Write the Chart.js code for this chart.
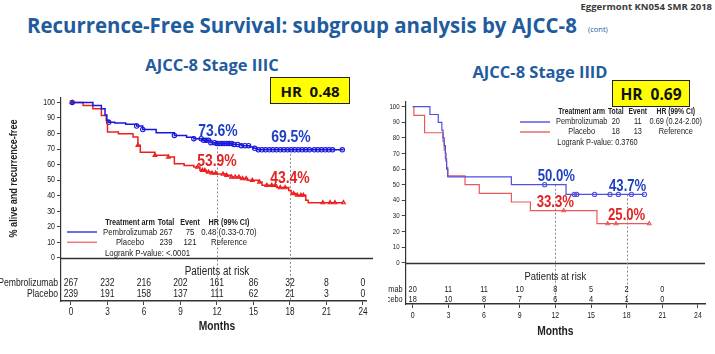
<!DOCTYPE html>
<html><head><meta charset="utf-8">
<script src="https://cdn.jsdelivr.net/npm/chart.js@4.4.1/dist/chart.umd.min.js"></script>
<style>
body{margin:0;background:#fff;}
#page{position:relative;width:715px;height:354px;overflow:hidden;background:#fff;font-family:"Open Sans",sans-serif;}
canvas{position:absolute;}
.t{position:absolute;white-space:nowrap;line-height:1;}
.c{transform:translate(-50%,-50%);}
.hr{position:absolute;background:#ffff00;border:1.5px solid #222;box-sizing:border-box;display:flex;align-items:center;justify-content:center;font-weight:700;color:#111;}
</style></head>
<body><div id="page">
<canvas id="left" width="380" height="250" style="left:0;top:90px"></canvas>
<canvas id="right" width="327" height="250" style="left:388px;top:90px"></canvas>
<div class="t" style="right:3px;top:2px;font-size:9.5px;font-weight:700;color:#3a3a3a;">Eggermont KN054 SMR 2018</div>
<div class="t" style="left:27px;top:13px;font-size:22px;font-weight:700;color:#1f5c9e;transform:scaleX(0.928);transform-origin:left center;">Recurrence-Free Survival: subgroup analysis by AJCC-8</div>
<div class="t" style="left:588px;top:26px;font-size:7.5px;color:#1f5c9e;">(cont)</div>
<div class="t c" style="left:212px;top:65px;font-size:16.5px;font-weight:700;color:#1f5c9e;">AJCC-8 Stage IIIC</div>
<div class="t c" style="left:540px;top:72px;font-size:16.5px;font-weight:700;color:#1f5c9e;">AJCC-8 Stage IIID</div>
<div class="hr" style="left:270px;top:77px;width:80px;height:27px;font-size:15px;">HR&nbsp;&nbsp;0.48</div>
<div class="hr" style="left:612px;top:80px;width:78px;height:27px;font-size:15.5px;">HR&nbsp;&nbsp;0.69</div>
</div>
<script>
// no narrow face installed, so text is squeezed horizontally to look like Arial Narrow
const FONT = '"Liberation Sans", Arial, sans-serif';
const SQ = 0.82;
const months = [0, 3, 6, 9, 12, 15, 18, 21, 24];
const yTicks = [0, 10, 20, 30, 40, 50, 60, 70, 80, 90, 100];
const landmarks = [12, 18];

// ---- AJCC-8 Stage IIIC ----
const iiicPembroT = [0, 1.8, 2.5, 2.8, 2.95, 3.1, 3.6, 4.5, 5.4, 5.9, 7.0, 8.5, 9.5, 10.1, 10.8, 11.5, 11.9, 13.3, 14.0, 14.7, 15.0, 15.3, 22.4];
const iiicPembroS = [100, 98, 96, 92, 88.5, 87.2, 86.8, 86, 84.8, 82.6, 80.5, 78.8, 77.6, 76.7, 75.6, 74.1, 73.6, 73.0, 72.2, 71.3, 70.5, 69.5, 69.5];
const iiicPlaceboT = [0, 1.0, 1.8, 2.5, 2.9, 3.0, 3.9, 5.1, 5.5, 5.7, 6.9, 8.0, 8.5, 9.3, 10.1, 10.6, 11.1, 11.6, 12.0, 12.7, 13.1, 13.9, 14.5, 15.4, 15.7, 16.9, 17.9, 18.1, 18.5, 19.3, 19.5, 22.4];
const iiicPlaceboS = [100, 98, 96, 91.6, 88.4, 81, 79.9, 77.7, 72.4, 68, 66, 64.9, 60.6, 59.5, 58.4, 56.3, 55.2, 54.5, 53.9, 53.1, 52, 51, 49.9, 48.8, 46.7, 45.2, 43.4, 41.4, 40.3, 37, 35.5, 35.5];
const iiicPembroCens = [0.1, 3.1, 5.4, 5.9, 8.5, 10.1, 10.7, 10.9, 11.1, 11.3, 11.5, 11.8, 12.0, 12.2, 12.4, 12.6, 12.8, 13.0, 13.2, 13.4, 13.7, 14.0, 14.3, 14.6, 15.1, 15.4, 15.7, 16.0, 16.3, 16.6, 16.9, 17.2, 17.5, 17.8, 18.1, 18.4, 18.7, 19.0, 19.3, 19.6, 20.0, 20.3, 20.6, 20.9, 21.2, 21.5, 22.3];
const iiicPlaceboCens = [0.1, 5.5, 6.9, 8.0, 10.4, 10.8, 11.0, 11.3, 11.6, 11.9, 12.5, 12.8, 13.2, 13.5, 13.8, 14.1, 14.4, 14.9, 15.5, 16.1, 16.5, 16.8, 17.2, 17.6, 18.3, 18.6, 18.9, 19.1, 20.7, 21.3, 21.7, 22.4];
const iiicPembroPct = [73.6, 69.5];
const iiicPlaceboPct = [53.9, 43.4];
const iiicRiskPembro = [267, 232, 216, 202, 161, 86, 32, 8, 0];
const iiicRiskPlacebo = [239, 191, 158, 137, 111, 62, 21, 3, 0];
const iiicLegendRows = [['Pembrolizumab', '267', '75', '0.48 (0.33-0.70)'], ['Placebo', '239', '121', 'Reference']];
const iiicLogrank = 'Logrank P-value: <.0001';

// ---- AJCC-8 Stage IIID ----
const iiidPembroT = [0, 1.45, 2.15, 2.45, 2.55, 2.65, 2.75, 2.8, 2.85, 2.95, 8.3, 12.9, 19.5];
const iiidPembroS = [100, 95, 90, 85, 80, 75, 70, 65, 60, 55, 50, 43.75, 43.75];
const iiidPlaceboT = [0, 0.1, 1.0, 2.55, 2.65, 2.75, 2.85, 2.95, 4.4, 5.6, 8.3, 9.9, 15.5, 19.9];
const iiidPlaceboS = [100, 94.4, 83.3, 77.8, 72.2, 66.7, 61.1, 55.6, 50.0, 44.4, 38.9, 33.3, 25.0, 25.0];
const iiidPembroCens = [11.1, 13.6, 13.8, 15.3, 16.6, 17.3, 18.4, 19.5];
const iiidPlaceboCens = [12.7, 16.4, 17.1, 19.9];
const iiidPembroPct = [50.0, 43.7];
const iiidPlaceboPct = [33.3, 25.0];
const iiidRiskPembro = [20, 11, 11, 10, 8, 5, 2, 0];
const iiidRiskPlacebo = [18, 10, 8, 7, 6, 4, 1, 0];
const iiidLegendRows = [['Pembrolizumab', '20', '11', '0.69 (0.24-2.00)'], ['Placebo', '18', '13', 'Reference']];
const iiidLogrank = 'Logrank P-value: 0.3760';

const legendHead = ['Treatment arm', 'Total', 'Event', 'HR (99% CI)'];
const armNames = ['Pembrolizumab', 'Placebo'];

function survAt(T, S, t) {
    let s = S[0];
    for (let i = 0; i < T.length; i++) { if (T[i] <= t) s = S[i]; }
    return s;
}

// squeezed text, align = 'left' | 'center' | 'right'
function sq(ctx, s, x, y, align, k) {
    const f = k || SQ;
    const w = ctx.measureText(s).width * f;
    const x0 = align === 'center' ? x - w / 2 : align === 'right' ? x - w : x;
    ctx.save();
    ctx.translate(x0, y); ctx.scale(f, 1);
    ctx.textAlign = 'left'; ctx.textBaseline = 'middle';
    ctx.fillText(s, 0, 0);
    ctx.restore();
}

const kmDecor = {
    id: 'kmDecor',
    beforeDatasetsDraw(chart, args, o) {
        const {ctx, chartArea: a, scales: {x, y}} = chart;
        ctx.save();
        const y0 = Math.round(y.getPixelForValue(0)) + 0.5;
        ctx.strokeStyle = '#333'; ctx.lineWidth = o.zeroWidth;
        ctx.beginPath(); ctx.moveTo(a.left, y0); ctx.lineTo(a.right + o.zeroExt, y0); ctx.stroke();
        ctx.setLineDash([2, 2]); ctx.strokeStyle = '#8a8a8a'; ctx.lineWidth = 1;
        landmarks.forEach((m, i) => {
            const px = Math.round(x.getPixelForValue(m)) + 0.5;
            ctx.beginPath(); ctx.moveTo(px, y.getPixelForValue(o.topPct[i])); ctx.lineTo(px, a.bottom); ctx.stroke();
        });
        ctx.restore();
    },
    afterDraw(chart, args, o) {
        const {ctx, chartArea: a, scales: {x, y}} = chart;
        const y0 = y.getPixelForValue(0);
        ctx.save();
        // tick labels
        ctx.fillStyle = '#222';
        ctx.font = o.tickSize + 'px ' + FONT;
        months.forEach(m => sq(ctx, String(m), x.getPixelForValue(m), a.bottom + o.tickOff, 'center'));
        ctx.font = o.yTickSize + 'px ' + FONT;
        yTicks.forEach(v => sq(ctx, String(v), a.left - 6, y.getPixelForValue(v), 'right'));
        // landmark percentages
        ctx.font = 'bold ' + o.pctSize + 'px ' + FONT;
        landmarks.forEach((m, i) => {
            ctx.fillStyle = '#1d3fc2';
            sq(ctx, o.topPct[i].toFixed(1) + '%', x.getPixelForValue(m) + 1, y.getPixelForValue(o.topPct[i]) - o.pctOff, 'center');
            ctx.fillStyle = '#e02424';
            sq(ctx, o.lowPct[i].toFixed(1) + '%', x.getPixelForValue(m), y.getPixelForValue(o.lowPct[i]) - o.pctOff, 'center');
        });
        // legend table
        const L = o.legend;
        ctx.fillStyle = '#222';
        ctx.font = 'bold ' + L.headSize + 'px ' + FONT;
        legendHead.forEach((h, j) => sq(ctx, h, L.cols[j], L.rows[0], 'center', 0.8));
        ctx.font = L.size + 'px ' + FONT;
        o.legendRows.forEach((r, i) => {
            ctx.strokeStyle = L.colors[i]; ctx.lineWidth = 1.5;
            ctx.beginPath(); ctx.moveTo(L.x0, L.rows[i + 1]); ctx.lineTo(L.x1, L.rows[i + 1]); ctx.stroke();
            r.forEach((s, j) => sq(ctx, s, L.cols[j], L.rows[i + 1], 'center'));
        });
        sq(ctx, o.logrank, L.lx, L.rows[3], 'left');
        // patients at risk
        const R = o.risk;
        ctx.font = R.headSize + 'px ' + FONT;
        sq(ctx, 'Patients at risk', x.getPixelForValue(12), y0 + R.head, 'center');
        ctx.font = R.size + 'px ' + FONT;
        [o.riskPembro, o.riskPlacebo].forEach((row, i) => {
            row.forEach((n, j) => sq(ctx, String(n), x.getPixelForValue(months[j]), y0 + R.rows[i], 'center'));
            sq(ctx, armNames[i], a.left - 3, y0 + R.rows[i], 'right');
        });
        // axis titles
        ctx.font = 'bold 12.5px ' + FONT;
        sq(ctx, 'Months', x.getPixelForValue(12), o.monthsY, 'center');
        if (o.yTitle) {
            ctx.translate(o.yTitle.x, o.yTitle.y);
            ctx.rotate(-Math.PI / 2);
            ctx.font = 'bold 11px ' + FONT;
            sq(ctx, '% alive and recurrence-free', 0, 0, 'center');
        }
        ctx.restore();
    }
};

function buildKM(id, d, look) {
    const kmLine = (T, S, color) => ({
        data: T.map((t, i) => ({x: t, y: S[i]})),
        borderColor: color, borderWidth: look.lineWidth, stepped: 'before',
        pointRadius: 0, fill: false
    });
    const cens = (C, T, S, color, style) => ({
        data: C.map(t => ({x: t, y: survAt(T, S, t)})),
        showLine: false, borderColor: color, backgroundColor: 'rgba(255,255,255,0)',
        pointStyle: style, pointRadius: look.markR, borderWidth: 1.1
    });
    return new Chart(document.getElementById(id), {
        type: 'line',
        data: {
            datasets: [
                kmLine(d.pT, d.pS, look.blue),
                kmLine(d.cT, d.cS, look.red),
                cens(d.pC, d.pT, d.pS, look.blue, 'circle'),
                cens(d.cC, d.cT, d.cS, look.red, 'triangle')
            ]
        },
        options: {
            responsive: false, animation: false,
            layout: {padding: look.padding},
            scales: {
                x: {
                    type: 'linear', min: look.xMin, max: look.xMax,
                    afterBuildTicks: s => { s.ticks = months.map(v => ({value: v})); },
                    afterFit: s => { s.height = look.xH; },
                    grid: {display: true, drawOnChartArea: false, tickLength: 4, color: '#444'},
                    border: {display: true, color: '#333', width: 1.5},
                    ticks: {autoSkip: false, maxRotation: 0, color: 'rgba(0,0,0,0)', font: {size: 8}}
                },
                y: {
                    type: 'linear', min: look.yMin, max: look.yMax,
                    afterBuildTicks: s => { s.ticks = yTicks.map(v => ({value: v})); },
                    afterFit: s => { s.width = look.yW; },
                    grid: {display: true, drawOnChartArea: false, tickLength: 4, color: '#444'},
                    border: {display: true, color: '#333', width: 1.2},
                    ticks: {color: 'rgba(0,0,0,0)', font: {size: 8}}
                }
            },
            plugins: {
                legend: {display: false}, tooltip: {enabled: false},
                kmDecor: Object.assign({
                    topPct: d.topPct, lowPct: d.lowPct, legendRows: d.legendRows, logrank: d.logrank,
                    riskPembro: d.riskP, riskPlacebo: d.riskC
                }, look.decor)
            }
        },
        plugins: [kmDecor]
    });
}

buildKM('left', {
    pT: iiicPembroT, pS: iiicPembroS, cT: iiicPlaceboT, cS: iiicPlaceboS,
    pC: iiicPembroCens, cC: iiicPlaceboCens, topPct: iiicPembroPct, lowPct: iiicPlaceboPct,
    riskP: iiicRiskPembro, riskC: iiicRiskPlacebo, legendRows: iiicLegendRows, logrank: iiicLogrank
}, {
    blue: '#1717dd', red: '#ec2020', lineWidth: 1.5, markR: 2.2,
    padding: {left: 0, top: 7, right: 14, bottom: 0},
    xMin: -0.82, xMax: 24.25, yMin: -27.8, yMax: 103, xH: 39, yW: 61,
    decor: {
        tickSize: 10, tickOff: 11, yTickSize: 8.5,
        zeroWidth: 1.5, zeroExt: 7, pctSize: 17, pctOff: 12.5,
        legend: {headSize: 9, size: 9.5, cols: [130, 166, 190, 229], rows: [132.7, 142, 152.3, 163.3], x0: 67, x1: 97, lx: 105, colors: ['#3c3ce6', '#f07a7a']},
        risk: {headSize: 12, head: 14, size: 10.5, rows: [25.5, 36]},
        monthsY: 237, yTitle: {x: 14, y: 88.5}
    }
});

buildKM('right', {
    pT: iiidPembroT, pS: iiidPembroS, cT: iiidPlaceboT, cS: iiidPlaceboS,
    pC: iiidPembroCens, cC: iiidPlaceboCens, topPct: iiidPembroPct, lowPct: iiidPlaceboPct,
    riskP: iiidRiskPembro, riskC: iiidRiskPlacebo, legendRows: iiidLegendRows, logrank: iiidLogrank
}, {
    blue: '#4f4fe0', red: '#e85a5a', lineWidth: 1.2, markR: 2.1,
    padding: {left: 0, top: 12, right: 10, bottom: 0},
    xMin: -0.59, xMax: 24.59, yMin: -26.5, yMax: 103, xH: 36, yW: 17.7,
    decor: {
        tickSize: 8.5, tickOff: 12, yTickSize: 7.5,
        zeroWidth: 1.5, zeroExt: 0, pctSize: 16, pctOff: 8,
        legend: {headSize: 8.5, size: 9, cols: [193.7, 227.8, 249.8, 287.8], rows: [22, 32, 42, 52.7], x0: 132, x1: 162, lx: 169.3, colors: ['#5a5ae6', '#e86a6a']},
        risk: {headSize: 11.5, head: 14, size: 9, rows: [26.5, 36.5]},
        monthsY: 242, yTitle: null
    }
});
</script>
</body></html>
